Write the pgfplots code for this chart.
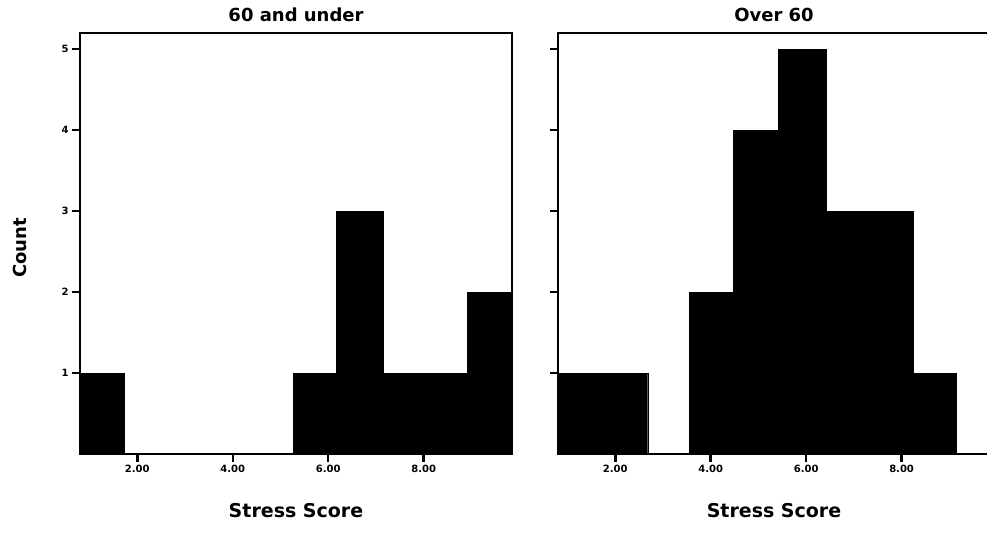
\documentclass[border=0pt]{standalone}
\usepackage{fontspec}
\setmainfont{DejaVu Sans}
\usepackage{pgfplots}
\pgfplotsset{compat=1.18}
\begin{document}
\begin{tikzpicture}
\clip (-80pt,-91pt) rectangle (907pt,454pt);
\pgfplotsset{
 hist/.style={
  scale only axis, height=421pt,
  xmin=0.8, ymin=0, ymax=5.2,
  xtick={2,4,6,8}, xticklabels={2.00,4.00,6.00,8.00},
  ytick={1,2,3,4,5},
  tick align=outside, major tick length=8pt,
  every tick/.style={black, line width=2.5pt},
  xtick pos=lower, ytick pos=left,
  axis line style={line width=1.2pt},
  ticklabel style={font=\fontsize{10}{10}\selectfont\bfseries},
  title style={font=\fontsize{18}{18}\selectfont\bfseries, at={(0.5,1)}, anchor=base, yshift=5pt},
  xlabel style={font=\fontsize{19}{19}\selectfont\bfseries, at={(0.5,0)}, anchor=base, yshift=-64pt},
  xlabel={Stress Score},
 }
}
\begin{axis}[hist, width=432pt, xmax=9.85, at={(0pt,0pt)}, anchor=south west, title={60 and under},
  yticklabels={1,2,3,4,5}]
\addplot[ybar interval, fill=black, draw=black] coordinates {
 (0.80,1) (1.72,0) (5.27,1) (6.17,3) (7.15,1) (8.03,1) (8.91,2) (9.85,0)
};
\end{axis}
\begin{axis}[hist, width=440pt, xmax=10.02, at={(478pt,0pt)}, anchor=south west, title={Over 60},
  yticklabels={}, xlabel style={xshift=-4pt}, title style={xshift=-4pt}]
\addplot[ybar interval, fill=black, draw=black] coordinates {
 (0.80,1) (1.74,1) (2.68,0) (3.55,2) (4.47,4) (5.41,5) (6.42,3) (7.33,3) (8.24,1) (9.14,0)
};
\end{axis}
\node[rotate=90, font=\fontsize{18}{18}\selectfont\bfseries] at (-60pt,206pt) {Count};
\end{tikzpicture}
\end{document}
